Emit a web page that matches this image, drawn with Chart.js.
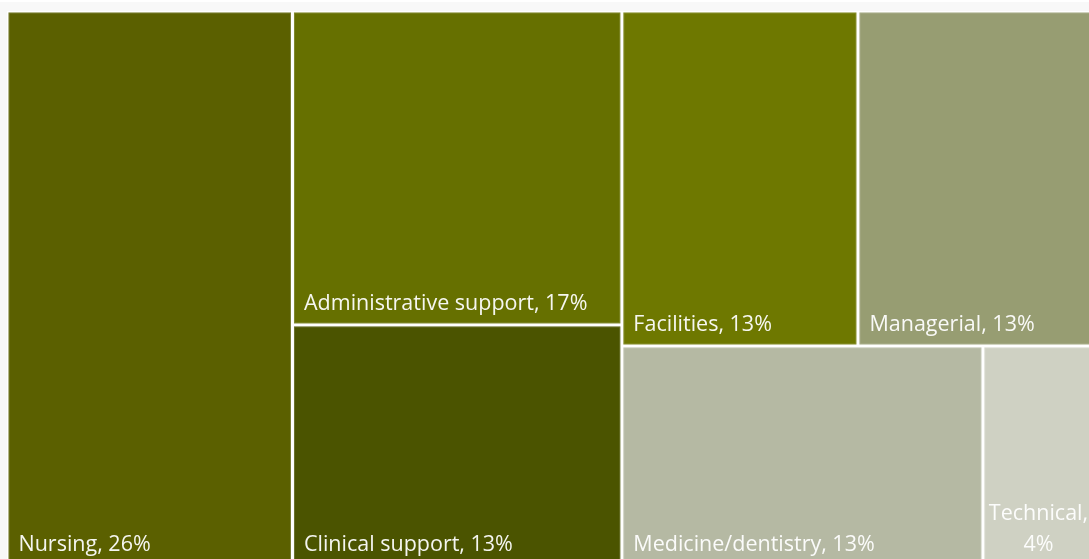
<!DOCTYPE html>
<html>
<head>
<meta charset="utf-8">
<script src="https://cdn.jsdelivr.net/npm/chart.js@4/dist/chart.umd.min.js"></script>
<style>
  html, body { margin: 0; padding: 0; overflow: hidden; background: #f8f8f8; }
  #wrap { position: absolute; left: 0; top: 0; }
  canvas { display: block; }
</style>
</head>
<body>
<div id="wrap"><canvas id="chart" width="1094" height="565"></canvas></div>
<script>
// Staff groups and their share of the workforce (%)
const categories = ['Nursing', 'Administrative support', 'Clinical support', 'Facilities', 'Managerial', 'Medicine/dentistry', 'Technical'];
const shares = [26, 17, 13, 13, 13, 13, 4];
const fills = ['#5b6000', '#667000', '#4b5400', '#6e7800', '#979d72', '#b5b9a3', '#cfd1c3'];

// Squarified treemap layout in data units; kx/ky convert units to pixels
function squarify(values, x, y, w, h, kx, ky) {
  const cells = [];
  let remaining = values.reduce((a, b) => a + b, 0);
  let i = 0;
  while (i < values.length) {
    const pw = w * kx, ph = h * ky;
    const perUnit = (pw * ph) / remaining;
    const side = Math.min(pw, ph);
    const worst = (row) => {
      const s = row.reduce((a, r) => a + values[r], 0) * perUnit;
      const t = s / side;
      let m = 0;
      row.forEach(r => {
        const len = values[r] * perUnit / t;
        m = Math.max(m, t / len, len / t);
      });
      return m;
    };
    let row = [i];
    let best = worst(row);
    while (i + row.length < values.length) {
      const cand = row.concat(i + row.length);
      const wc = worst(cand);
      if (wc <= best) { row = cand; best = wc; } else break;
    }
    const rowSum = row.reduce((a, r) => a + values[r], 0);
    const frac = rowSum / remaining;
    if (pw >= ph) {
      const cw = w * frac;
      let yy = y;
      row.forEach(r => {
        const hh = h * values[r] / rowSum;
        cells[r] = { x0: x, x1: x + cw, y0: yy, y1: yy + hh };
        yy += hh;
      });
      x += cw; w -= cw;
    } else {
      const rh = h * frac;
      let xx = x;
      row.forEach(r => {
        const ww = w * values[r] / rowSum;
        cells[r] = { x0: xx, x1: xx + ww, y0: y, y1: y + rh };
        xx += ww;
      });
      y += rh; h -= rh;
    }
    remaining -= rowSum;
    i += row.length;
  }
  return cells;
}

const treemapCells = {
  id: 'treemapCells',
  beforeDraw(chart) {
    const { ctx, chartArea: a } = chart;
    ctx.save();
    ctx.fillStyle = '#f8f8f8';
    ctx.fillRect(0, 0, chart.width, chart.height);
    ctx.fillStyle = '#ffffff';
    ctx.fillRect(0, 0, chart.width, 2);
    ctx.fillRect(a.left, a.top, a.right - a.left, a.bottom - a.top);
    ctx.restore();
  },
  afterDatasetsDraw(chart) {
    const { ctx } = chart;
    const xs = chart.scales.x, ys = chart.scales.y;
    const kx = Math.abs(xs.getPixelForValue(1) - xs.getPixelForValue(0));
    const ky = Math.abs(ys.getPixelForValue(1) - ys.getPixelForValue(0));
    const cells = squarify(shares, 0, 0, 1, 1, kx, ky);
    const gap = 1.5;
    const fontSize = 21.5;
    ctx.save();
    cells.forEach((c, idx) => {
      const l = xs.getPixelForValue(c.x0) + gap;
      const r = xs.getPixelForValue(c.x1) - gap;
      const t = ys.getPixelForValue(c.y0) + gap;
      const b = ys.getPixelForValue(c.y1) - gap;
      ctx.fillStyle = fills[idx];
      ctx.fillRect(l, t, r - l, b - t);
      ctx.strokeStyle = 'rgba(255,255,255,0.18)';
      ctx.lineWidth = 1;
      ctx.strokeRect(l + 0.5, t + 0.5, r - l - 1, b - t - 1);

      // label in the lower-left corner, wrapped and centred when it is too wide
      ctx.save();
      ctx.beginPath();
      ctx.rect(l, t, r - l, b - t);
      ctx.clip();
      ctx.font = fontSize + 'px "Open Sans", "Noto Sans", sans-serif';
      ctx.fillStyle = 'rgba(255,255,255,0.94)';
      ctx.textBaseline = 'alphabetic';
      const text = categories[idx] + ', ' + shares[idx] + '%';
      const pad = 10;
      if (ctx.measureText(text).width <= r - l - 2 * pad) {
        ctx.textAlign = 'left';
        ctx.fillText(text, l + pad, b - 13);
      } else {
        const lines = [categories[idx] + ',', shares[idx] + '%'];
        ctx.textAlign = 'center';
        const cx = (l + r) / 2;
        const lh = 31;
        lines.forEach((ln, k) => {
          ctx.fillText(ln, cx, b - 13 - (lines.length - 1 - k) * lh);
        });
      }
      ctx.restore();
    });
    ctx.restore();
  }
};

new Chart(document.getElementById('chart'), {
  type: 'scatter',
  data: { datasets: [{ data: [] }] },
  options: {
    responsive: false,
    animation: false,
    devicePixelRatio: 1,
    layout: { padding: { left: 7, top: 11, right: 0, bottom: 0 } },
    scales: {
      x: { type: 'linear', min: 0, max: 1, display: false },
      y: { type: 'linear', min: 0, max: 1, reverse: true, display: false }
    },
    plugins: { legend: { display: false }, tooltip: { enabled: false } }
  },
  plugins: [treemapCells]
});
</script>
</body>
</html>
